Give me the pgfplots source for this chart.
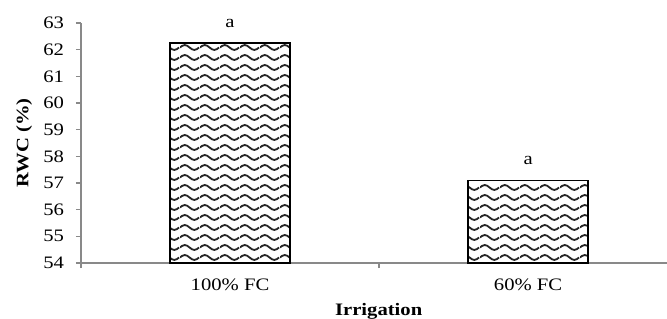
\documentclass[border=0pt]{standalone}
\usepackage{fontspec}
\setmainfont[FakeStretch=1.18]{Liberation Serif}
\usepackage{pgfplots}
\pgfplotsset{compat=1.18}
\usetikzlibrary{patterns}
\pgfdeclarepatternformonly{wavy}{\pgfpointorigin}{\pgfpoint{20bp}{9.5bp}}{\pgfpoint{20bp}{9.5bp}}{
  \pgfsetlinewidth{1.9bp}
  \pgfpathmoveto{\pgfpoint{0bp}{4.75bp}}
  \pgfpathsine{\pgfpoint{5bp}{2.6bp}}
  \pgfpathcosine{\pgfpoint{5bp}{-2.6bp}}
  \pgfpathsine{\pgfpoint{5bp}{-2.6bp}}
  \pgfpathcosine{\pgfpoint{5bp}{2.6bp}}
  \pgfusepath{stroke}
}
\definecolor{axgray}{RGB}{137,137,137}
\begin{document}
\fontsize{17.5bp}{20bp}\selectfont
\begin{tikzpicture}
\path[use as bounding box] (-81bp,-56bp) rectangle (586bp,263bp);
\begin{axis}[
  scale only axis,
  width=586bp, height=240bp,
  xmin=-0.5, xmax=1.466,
  ymin=54, ymax=63,
  ytick distance=1,
  xtick={-0.5,0.5},
  xticklabels={},
  extra x ticks={0,1},
  extra x tick labels={100\% FC, 60\% FC},
  extra x tick style={major tick length=0bp, xticklabel style={yshift=-10bp}},
  axis x line*=bottom,
  axis y line*=left,
  axis line style={axgray, line width=1.5bp},
  tick style={axgray, line width=1.5bp},
  major tick length=5bp,
  tick align=outside,
  /pgf/number format/assume math mode=true,
  tick label style={font=\fontsize{17.5bp}{20bp}\selectfont},
  yticklabel style={xshift=-6bp},
  xlabel={\textbf{Irrigation}},
  ylabel={\textbf{RWC (\%)}},
  xlabel style={at={(axis description cs:0.508,0)}, anchor=base, yshift=-52bp, font=\fontsize{17.5bp}{20bp}\selectfont},
  ylabel style={at={(axis description cs:-0.097,0.5)}, anchor=center, font=\fontsize{17.5bp}{20bp}\selectfont},
  clip=false,
]
\addplot[ybar, bar width=0.403, draw=black, line width=1.6bp,
  pattern=wavy, pattern color=black!85,
  nodes near coords={a},
  every node near coord/.append style={anchor=base, yshift=16bp, text=black, font=\fontsize{17.5bp}{20bp}\selectfont}]
  coordinates {(0,62.24) (1,57.1)};
\end{axis}
\end{tikzpicture}
\end{document}
